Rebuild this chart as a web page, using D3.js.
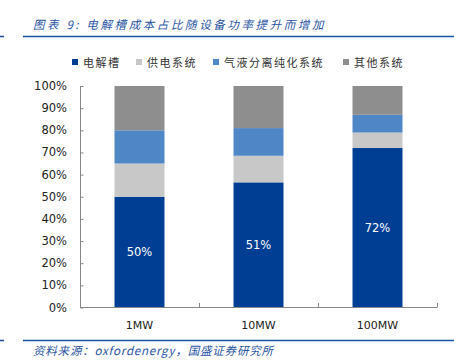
<!DOCTYPE html>
<html>
<head>
<meta charset="utf-8">
<script src="https://cdn.jsdelivr.net/npm/d3@7"></script>
<style>
  body { margin: 0; background: #fff; }
  svg { display: block; }
</style>
</head>
<body>
<div id="chart"></div>
<script>
const categories = ["1MW", "10MW", "100MW"];
const seriesNames = ["电解槽", "供电系统", "气液分离纯化系统", "其他系统"];
const electrolyzer = [50, 56.5, 72];
const powerSupply = [15, 12, 7];
const gasLiquid = [15, 12.5, 8];
const others = [20, 19, 13];
const barLabels = ["50%", "51%", "72%"];
const yTicks = [0, 10, 20, 30, 40, 50, 60, 70, 80, 90, 100];
const colors = ["#003e94", "#c8c8c8", "#4f86c6", "#8e8e8e"];

const width = 454, height = 363;
const svg = d3.select("#chart").append("svg")
    .attr("width", width)
    .attr("height", height);

const cjk = "'Noto Sans CJK SC', sans-serif";
const latin = "'DejaVu Sans', Verdana, sans-serif";

// title + rules
svg.append("text")
    .attr("x", 33).attr("y", 29)
    .style("font-family", cjk)
    .style("font-size", "11.5px")
    .style("font-style", "italic")
    .style("letter-spacing", "2.6px")
    .style("fill", "#2a55a3")
    .text("图表 9: 电解槽成本占比随设备功率提升而增加");

[36.5, 340.5].forEach(y => {
    svg.append("line").attr("x1", 0).attr("x2", 4).attr("y1", y).attr("y2", y)
        .style("stroke", "#1f4e9f").style("stroke-width", 1.5);
    svg.append("line").attr("x1", 23).attr("x2", width).attr("y1", y).attr("y2", y)
        .style("stroke", "#1f4e9f").style("stroke-width", 1.5);
});

svg.append("text")
    .attr("x", 33).attr("y", 355)
    .style("font-family", cjk)
    .style("font-size", "11.5px")
    .style("font-style", "italic")
    .style("letter-spacing", "0.8px")
    .style("fill", "#2a55a3")
    .text("资料来源：oxfordenergy，国盛证券研究所");

// legend
const legendX = [72, 136, 213, 343];
const legend = svg.append("g");
seriesNames.forEach((name, i) => {
    legend.append("rect")
        .attr("x", legendX[i]).attr("y", 59)
        .attr("width", 6).attr("height", 6)
        .style("fill", colors[i]);
    legend.append("text")
        .attr("x", legendX[i] + 11).attr("y", 66.5)
        .style("font-family", cjk)
        .style("font-size", "11px")
        .style("letter-spacing", "1.5px")
        .style("fill", "#333")
        .text(name);
});

// scales
const x = d3.scaleBand()
    .domain(categories)
    .range([80, 437])
    .paddingInner(0.58)
    .paddingOuter(0.29);

const y = d3.scaleLinear()
    .domain([0, 100])
    .range([307.5, 86]);

const rows = categories.map((c, i) => ({
    cat: c,
    s0: electrolyzer[i], s1: powerSupply[i], s2: gasLiquid[i], s3: others[i]
}));
const stacked = d3.stack().keys(["s0", "s1", "s2", "s3"])(rows);

svg.append("g").selectAll("g")
    .data(stacked)
    .enter()
    .append("g")
    .style("fill", (d, i) => colors[i])
    .selectAll("rect")
    .data(d => d)
    .enter()
    .append("rect")
    .attr("x", d => x(d.data.cat))
    .attr("width", x.bandwidth())
    .attr("y", d => y(d[1]))
    .attr("height", d => y(d[0]) - y(d[1]));

// value labels in the electrolyzer segment
svg.append("g").selectAll("text")
    .data(stacked[0])
    .enter()
    .append("text")
    .attr("x", d => x(d.data.cat) + x.bandwidth() / 2)
    .attr("y", d => y((d[0] + d[1]) / 2) + 4)
    .attr("text-anchor", "middle")
    .style("font-family", latin)
    .style("font-size", "11.5px")
    .style("fill", "#fff")
    .text((d, i) => barLabels[i]);

// y axis
const yAxis = svg.append("g")
    .attr("transform", "translate(80,0)")
    .call(d3.axisRight(y).tickValues(yTicks).tickSize(3).tickFormat(""));
yAxis.select(".domain").attr("d", "M0.5,86V307.5");
yAxis.selectAll("line").attr("x1", 0.5).attr("x2", 3.5);
yAxis.selectAll("path, line").style("stroke", "#888");

svg.append("g").selectAll("text")
    .data(yTicks)
    .enter()
    .append("text")
    .attr("x", 67)
    .attr("y", d => y(d) + 4)
    .attr("text-anchor", "end")
    .style("font-family", latin)
    .style("font-size", "11.5px")
    .style("fill", "#222")
    .text(d => d + "%");

// x axis
const xEdges = [80, 80 + x.step() * 1.0, 80 + x.step() * 2.0, 437];
svg.append("line")
    .attr("x1", 80).attr("x2", 437)
    .attr("y1", 307.5).attr("y2", 307.5)
    .style("stroke", "#888");
svg.append("g").selectAll("line")
    .data(xEdges.slice(1))
    .enter()
    .append("line")
    .attr("x1", d => Math.round(d) + 0.5).attr("x2", d => Math.round(d) + 0.5)
    .attr("y1", 303).attr("y2", 307.5)
    .style("stroke", "#888");

svg.append("g").selectAll("text")
    .data(categories)
    .enter()
    .append("text")
    .attr("x", d => x(d) + x.bandwidth() / 2)
    .attr("y", 329)
    .attr("text-anchor", "middle")
    .style("font-family", latin)
    .style("font-size", "11px")
    .style("fill", "#222")
    .text(d => d);
</script>
</body>
</html>
